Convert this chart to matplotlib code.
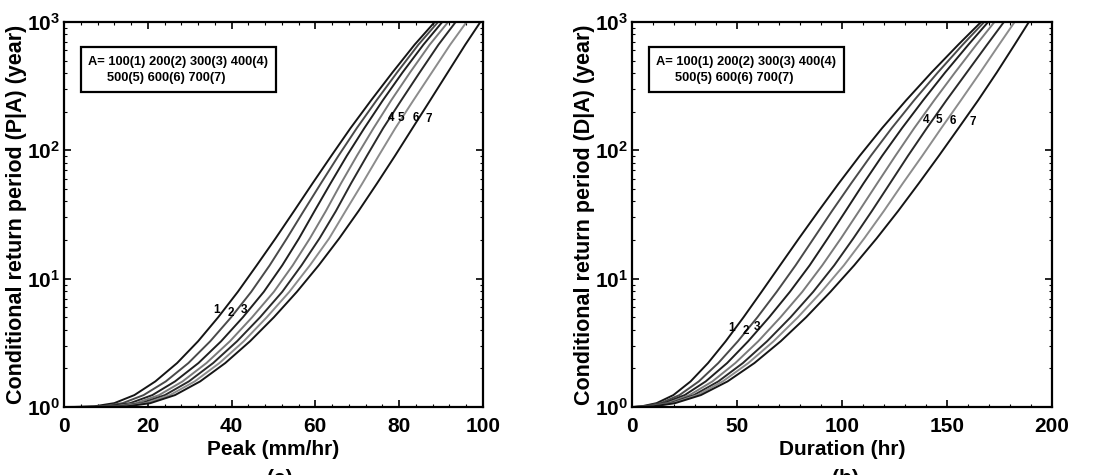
import numpy as np
import matplotlib
matplotlib.use('Agg')
import matplotlib.pyplot as plt
from matplotlib.patches import Rectangle
from matplotlib.ticker import LogLocator, MultipleLocator, FixedLocator

plt.rcParams['font.family'] = ['Liberation Sans', 'DejaVu Sans']
plt.rcParams['font.weight'] = 'bold'
plt.rcParams['mathtext.fontset'] = 'custom'
plt.rcParams['mathtext.rm'] = 'Liberation Sans:bold'
plt.rcParams['mathtext.bf'] = 'Liberation Sans:bold'
plt.rcParams['mathtext.default'] = 'bf'

T_levels = [1.0, 1.0006, 1.011, 1.071, 1.238, 1.582, 2.2, 3.25, 5.0, 7.9,
            12.7, 20.6, 33.6, 55.1, 90.5, 149, 245, 404, 666, 1000]

# (a) peak intensity (mm/hr), area A = 100 .. 700
peak_1 = [0, 2.5, 7.2, 12.0, 16.8, 21.8, 27.0, 32.0, 36.8, 41.5, 46.0, 50.5, 54.9, 59.3, 63.8, 68.4, 73.3, 78.4, 83.7, 88.5]
peak_2 = [0, 4.1, 9.0, 14.0, 19.0, 24.3, 29.7, 34.9, 39.9, 44.7, 49.1, 53.2, 57.2, 61.3, 65.5, 69.9, 74.6, 79.5, 84.6, 89.3]
peak_3 = [0, 5.6, 10.6, 15.8, 21.1, 26.5, 32.1, 37.5, 42.7, 47.7, 52.1, 56.1, 59.8, 63.6, 67.5, 71.7, 76.1, 80.8, 85.8, 90.3]
peak_4 = [0, 6.8, 12.0, 17.2, 22.7, 28.3, 34.0, 39.6, 44.9, 50.1, 54.6, 58.7, 62.5, 66.1, 69.9, 73.9, 78.1, 82.6, 87.3, 91.7]
peak_5 = [0, 7.8, 13.1, 18.5, 24.1, 29.8, 35.6, 41.3, 46.8, 52.1, 56.7, 61.0, 64.9, 68.5, 72.3, 76.2, 80.5, 84.9, 89.4, 93.5]
peak_6 = [0, 8.6, 14.0, 19.5, 25.3, 31.2, 37.1, 42.9, 48.4, 53.8, 58.7, 63.3, 67.2, 71.2, 75.1, 79.1, 83.4, 87.8, 92.2, 96.1]
peak_7 = [0, 9.5, 15.0, 20.6, 26.5, 32.5, 38.5, 44.4, 50.1, 55.6, 60.8, 65.7, 70.3, 74.7, 79.0, 83.2, 87.4, 91.6, 95.8, 99.4]

# (b) duration (hr), area A = 100 .. 700
dur_1 = [0, 0.5, 4.5, 11.7, 19.7, 27.9, 36.2, 44.6, 53.1, 61.7, 70.5, 79.5, 88.8, 98.4, 108.4, 119.1, 130.5, 142.6, 155.4, 166.2]
dur_2 = [0, 1.1, 5.7, 13.6, 22.6, 31.8, 41.1, 50.4, 59.7, 68.9, 77.9, 86.5, 95.2, 104.3, 113.7, 123.7, 134.3, 145.6, 157.5, 167.7]
dur_3 = [0, 1.5, 6.8, 15.3, 25.1, 35.1, 45.3, 55.3, 65.3, 75.2, 84.6, 93.2, 101.7, 110.2, 119.1, 128.6, 138.6, 149.1, 160.2, 169.6]
dur_4 = [0, 2.0, 7.7, 16.9, 27.4, 38.3, 49.2, 60.1, 70.7, 81.1, 90.6, 99.5, 108.1, 116.7, 125.4, 134.4, 143.9, 153.8, 164.0, 172.6]
dur_5 = [0, 2.4, 8.6, 18.3, 29.5, 41.1, 52.8, 64.3, 75.5, 86.3, 96.3, 105.4, 114.2, 122.8, 131.4, 140.4, 149.7, 159.4, 169.1, 177.1]
dur_6 = [0, 2.7, 9.3, 19.4, 31.1, 43.2, 55.4, 67.4, 79.0, 90.2, 100.9, 110.6, 119.9, 128.9, 138.2, 147.3, 156.6, 165.8, 174.8, 182.2]
dur_7 = [0, 3.0, 10.0, 20.5, 32.8, 45.5, 58.3, 70.8, 82.9, 94.5, 105.8, 116.5, 126.7, 136.5, 146.1, 155.5, 164.8, 173.7, 182.2, 189.0]

curve_ids = ['1', '2', '3', '4', '5', '6', '7']
line_colors = ['#151515', '#4a4a4a', '#202020', '#7a7a7a', '#2a2a2a', '#8c8c8c', '#151515']

# curve number labels (x, T)
peak_lab_x = [36.4, 39.8, 43.0, 78.0, 80.5, 84.0, 87.0]
peak_lab_T = [5.7, 5.4, 5.7, 180, 180, 178, 176]
dur_lab_x = [47.3, 54.0, 59.5, 140.0, 146.0, 153.0, 162.5]
dur_lab_T = [4.1, 3.9, 4.2, 172, 172, 170, 165]

legend_txt1 = 'A= 100(1) 200(2) 300(3) 400(4)'
legend_txt2 = '500(5) 600(6) 700(7)'

fig = plt.figure(figsize=(10.98, 4.75), dpi=100)
ax1 = fig.add_axes([0.0583, 0.1432, 0.3815, 0.8105])
ax2 = fig.add_axes([0.5756, 0.1432, 0.3825, 0.8105])


def draw(ax, series, lab_x, lab_T, xmax, xmajor, xminor, xlabel, ylabel):
    for s, c in zip(series, line_colors):
        ax.plot(s, T_levels, color=c, lw=1.4)
    for k, txt in enumerate(curve_ids):
        ax.text(lab_x[k], lab_T[k], txt, fontsize=8.5, ha='center', va='center')
    ax.set_yscale('log')
    ax.set_xlim(0, xmax)
    ax.set_ylim(1, 1000)
    ax.xaxis.set_major_locator(MultipleLocator(xmajor))
    ax.xaxis.set_minor_locator(MultipleLocator(xminor))
    ax.yaxis.set_major_locator(FixedLocator([1, 10, 100, 1000]))
    ax.yaxis.set_minor_locator(LogLocator(base=10, subs=np.arange(2, 10)))
    ax.set_yticklabels([r'$10^{0}$', r'$10^{1}$', r'$10^{2}$', r'$10^{3}$'])
    ax.tick_params(which='both', direction='in', top=True, right=True, labelsize=15)
    ax.tick_params(which='major', length=5, width=1.2)
    ax.tick_params(which='minor', length=2.5, width=0.8)
    ax.tick_params(axis='x', pad=7)
    ax.tick_params(axis='y', pad=3)
    for sp in ax.spines.values():
        sp.set_linewidth(1.6)
    ax.set_xlabel(xlabel, fontsize=15, fontweight='bold', labelpad=3)
    ax.set_ylabel(ylabel, fontsize=15.5, fontweight='bold', labelpad=0)
    ax.add_patch(Rectangle((0.04, 0.818), 0.465, 0.117, transform=ax.transAxes,
                           fill=False, ec='black', lw=1.6, zorder=5))
    ax.text(0.058, 0.895, legend_txt1, transform=ax.transAxes, fontsize=9.3,
            ha='left', va='center')
    ax.text(0.103, 0.854, legend_txt2, transform=ax.transAxes, fontsize=9.3,
            ha='left', va='center')


draw(ax1, [peak_1, peak_2, peak_3, peak_4, peak_5, peak_6, peak_7],
     peak_lab_x, peak_lab_T, 100, 20, 4, 'Peak (mm/hr)',
     'Conditional return period (P|A) (year)')
draw(ax2, [dur_1, dur_2, dur_3, dur_4, dur_5, dur_6, dur_7],
     dur_lab_x, dur_lab_T, 200, 50, 10, 'Duration (hr)',
     'Conditional return period (D|A) (year)')

fig.text(0.255, 0.012, '(a)', fontsize=15, ha='center', va='top')
fig.text(0.77, 0.012, '(b)', fontsize=15, ha='center', va='top')

fig.savefig('out.png', dpi=100)
